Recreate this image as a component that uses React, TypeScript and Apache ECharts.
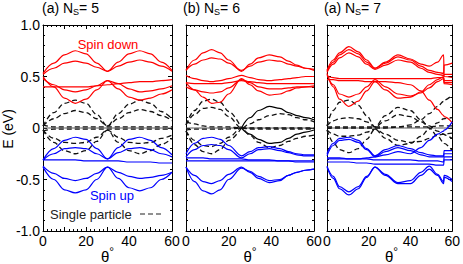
import React, { useEffect, useRef } from "react";
import * as echarts from "echarts";

// x positions (theta, degrees) for each panel
const X1 = [0, 5, 10, 15, 20, 25, 30, 35, 40, 45, 50, 55, 60];
const X2 = [0, 4, 8, 12, 16, 20, 26, 30, 34, 39, 44, 48, 52, 56, 60];
const X3 = [0, 3, 6, 10.5, 15, 19, 23, 28, 34, 40, 45, 49, 53, 55.9, 56.1, 60];

const N = null;

// ---------- Panel (a) N_S = 5 ----------
const P1_RED = [
  [0.53, 0.63, 0.71, 0.75, 0.72, 0.63, 0.55, 0.64, 0.72, 0.75, 0.72, 0.64, 0.56],
  [0.52, 0.58, 0.63, 0.65, 0.63, 0.59, 0.55, 0.60, 0.64, 0.66, 0.64, 0.60, 0.55],
  [0.50, 0.40, 0.29, 0.24, 0.28, 0.37, 0.46, 0.38, 0.30, 0.27, 0.29, 0.33, 0.37],
  [0.48, 0.42, 0.37, 0.35, 0.37, 0.41, 0.46, 0.43, 0.38, 0.35, 0.36, 0.38, 0.41],
  [0.40, 0.40, 0.40, 0.40, 0.40, 0.41, 0.42, 0.43, 0.44, 0.45, 0.45, 0.46, 0.47],
];
const P1_DASH = [
  [0.02, 0.15, 0.24, 0.27, 0.24, 0.13, 0.02, 0.14, 0.23, 0.27, 0.24, 0.16, 0.09],
  [0.02, 0.09, 0.14, 0.17, 0.15, 0.09, 0.02, 0.09, 0.15, 0.18, 0.16, 0.12, 0.07],
  [0.03, 0.01, 0.01, 0.01, 0.01, 0.01, 0.01, 0.01, 0.01, 0.01, 0.01, 0.01, 0.01],
  [-0.03, -0.01, -0.01, -0.01, -0.01, -0.01, -0.01, -0.01, -0.01, -0.01, -0.01, -0.01, -0.01],
  [-0.02, -0.10, -0.14, -0.15, -0.14, -0.09, -0.02, -0.09, -0.14, -0.15, -0.14, -0.10, -0.07],
  [-0.02, -0.14, -0.22, -0.25, -0.22, -0.13, -0.02, -0.14, -0.22, -0.25, -0.22, -0.16, -0.10],
];
const P1_SOLID = [
  [0, 0, 0, 0, 0, 0, 0, 0, 0, 0, 0, 0, 0],
];
const P1_BLUE = [
  [-0.31, -0.20, -0.12, -0.09, -0.11, -0.20, -0.30, -0.19, -0.11, -0.09, -0.12, -0.19, -0.26],
  [-0.31, -0.25, -0.20, -0.19, -0.20, -0.25, -0.30, -0.24, -0.20, -0.19, -0.21, -0.25, -0.28],
  [-0.31, -0.31, -0.31, -0.31, -0.32, -0.32, -0.32, -0.32, -0.33, -0.33, -0.33, -0.34, -0.34],
  [-0.37, -0.44, -0.49, -0.51, -0.49, -0.44, -0.38, -0.43, -0.47, -0.49, -0.48, -0.46, -0.43],
  [-0.38, -0.50, -0.60, -0.63, -0.60, -0.50, -0.38, -0.49, -0.58, -0.61, -0.58, -0.50, -0.43],
];

// ---------- Panel (b) N_S = 6 ----------
const P2_RED = [
  [0.56, 0.66, 0.73, 0.76, 0.73, 0.66, 0.55, 0.62, 0.68, 0.71, 0.69, 0.65, 0.61, 0.58, 0.57],
  [0.56, 0.62, 0.66, 0.68, 0.67, 0.63, 0.56, 0.60, 0.64, 0.66, 0.65, 0.62, 0.60, 0.58, 0.56],
  [0.51, 0.48, 0.46, 0.45, 0.46, 0.48, 0.51, 0.49, 0.47, 0.46, 0.47, 0.48, 0.49, 0.50, 0.50],
  [0.44, 0.43, 0.43, 0.43, 0.43, 0.44, 0.46, 0.45, 0.44, 0.43, 0.43, 0.43, 0.43, 0.43, 0.43],
  [0.44, 0.37, 0.30, 0.24, 0.25, 0.33, 0.48, 0.42, 0.36, 0.32, 0.33, 0.36, 0.39, 0.40, 0.40],
  [0.40, 0.37, 0.35, 0.34, 0.35, 0.39, 0.47, 0.44, 0.40, 0.38, 0.38, 0.39, 0.40, 0.40, 0.41],
];
const P2_DASH = [
  [0.03, 0.17, 0.26, 0.28, 0.25, 0.16, 0.00, N, N, N, N, N, N, N, N],
  [0.03, 0.13, 0.19, 0.20, 0.18, 0.11, 0.00, 0.04, 0.08, 0.12, 0.14, 0.13, 0.10, 0.08, 0.06],
  [0.06, 0.04, 0.02, 0.01, 0.01, 0.01, 0.00, 0.00, 0.00, 0.00, 0.00, 0.00, 0.00, 0.00, 0.00],
  [-0.02, -0.01, -0.01, -0.01, -0.01, -0.01, 0.00, -0.01, -0.01, -0.01, -0.01, -0.01, -0.01, -0.01, -0.01],
  [-0.03, -0.12, -0.17, -0.18, -0.15, -0.09, 0.00, -0.07, -0.14, -0.19, -0.17, -0.13, -0.10, -0.08, -0.07],
  [-0.03, -0.16, -0.23, -0.25, -0.21, -0.12, 0.00, N, N, N, N, N, N, N, N],
];
const P2_SOLID = [
  [0, 0, 0, 0, 0, 0, 0, 0, 0, 0, 0, 0, 0, 0, 0],
  [N, N, N, N, N, N, 0.00, 0.10, 0.17, 0.21, 0.19, 0.15, 0.12, 0.10, 0.08],
  [N, N, N, N, N, N, 0.00, -0.06, -0.11, -0.15, -0.14, -0.10, -0.06, -0.04, -0.02],
];
const P2_BLUE = [
  [-0.25, -0.15, -0.10, -0.09, -0.11, -0.17, -0.27, -0.23, -0.19, -0.18, -0.20, -0.23, -0.25, -0.26, -0.26],
  [-0.28, -0.21, -0.17, -0.16, -0.17, -0.21, -0.29, -0.25, -0.21, -0.20, -0.22, -0.24, -0.26, -0.27, -0.27],
  [-0.32, -0.32, -0.32, -0.32, -0.32, -0.32, -0.32, -0.32, -0.32, -0.32, -0.32, -0.32, -0.32, -0.32, -0.32],
  [-0.29, -0.29, -0.29, -0.30, -0.30, -0.30, -0.30, -0.31, -0.31, -0.31, -0.32, -0.32, -0.33, -0.33, -0.33],
  [-0.38, -0.46, -0.52, -0.54, -0.51, -0.45, -0.38, -0.43, -0.49, -0.53, -0.51, -0.46, -0.43, -0.41, -0.40],
  [-0.38, -0.52, -0.61, -0.64, -0.60, -0.50, -0.39, -0.42, -0.47, -0.51, -0.50, -0.46, -0.43, -0.41, -0.40],
];

// ---------- Panel (a) N_S = 7 ----------
const P3_RED = [
  [0.56, 0.66, 0.73, 0.79, 0.74, 0.66, 0.58, 0.64, 0.71, 0.67, 0.62, 0.60, 0.64, 0.71, 0.50, 0.49],
  [0.55, 0.64, 0.71, 0.76, 0.72, 0.64, 0.58, 0.63, 0.69, 0.66, 0.60, 0.56, 0.54, 0.53, 0.61, 0.63],
  [0.54, 0.62, 0.68, 0.73, 0.69, 0.62, 0.57, 0.61, 0.66, 0.64, 0.58, 0.54, 0.52, 0.51, 0.52, 0.52],
  [0.50, 0.49, 0.48, 0.48, 0.48, 0.48, 0.48, 0.48, 0.48, 0.48, 0.48, 0.48, 0.49, 0.49, 0.46, 0.46],
  [0.52, 0.42, 0.33, 0.30, 0.33, 0.40, 0.47, 0.40, 0.33, 0.31, 0.34, 0.39, 0.45, 0.48, 0.44, 0.44],
  [0.53, 0.40, 0.28, 0.21, 0.26, 0.36, 0.45, 0.37, 0.29, 0.30, 0.35, 0.42, 0.47, 0.50, 0.43, 0.42],
  [0.47, 0.47, 0.46, 0.46, 0.46, 0.45, 0.45, 0.45, 0.44, 0.42, 0.36, 0.27, 0.18, 0.12, 0.11, 0.05],
];
const P3_DASH = [
  [0.02, 0.17, 0.25, 0.27, 0.22, 0.12, 0.01, 0.12, 0.20, 0.17, 0.08, 0.00, -0.08, -0.14, -0.15, -0.22],
  [0.02, 0.07, 0.09, 0.10, 0.09, 0.06, 0.01, 0.07, 0.13, 0.11, 0.06, 0.02, -0.03, -0.06, -0.06, -0.10],
  [0.00, 0.00, 0.00, 0.00, 0.00, 0.00, 0.00, 0.00, 0.01, 0.03, 0.08, 0.14, 0.21, 0.26, 0.27, 0.32],
  [0.01, 0.01, 0.01, 0.01, 0.01, 0.01, 0.01, 0.01, 0.01, 0.01, 0.01, 0.01, 0.02, 0.02, 0.02, 0.02],
  [-0.02, -0.14, -0.21, -0.24, -0.20, -0.11, -0.01, -0.10, -0.17, -0.15, -0.08, -0.01, 0.05, 0.09, 0.09, 0.10],
  [-0.02, -0.06, -0.08, -0.08, -0.07, -0.04, -0.01, -0.06, -0.12, -0.14, -0.13, -0.10, -0.07, -0.06, -0.06, -0.05],
];
const P3_SOLID = [
  [0, 0, 0, 0, 0, 0, 0, 0, 0, 0, 0, 0, 0, 0, 0, 0],
];
const P3_BLUE = [
  [-0.25, -0.15, -0.10, -0.09, -0.12, -0.20, -0.27, -0.21, -0.17, -0.20, -0.24, -0.26, -0.27, -0.27, -0.22, -0.22],
  [-0.27, -0.17, -0.12, -0.11, -0.14, -0.21, -0.28, -0.23, -0.19, -0.22, -0.26, -0.28, -0.28, -0.28, -0.25, -0.25],
  [-0.29, -0.29, -0.29, -0.30, -0.30, -0.30, -0.31, -0.31, -0.31, -0.31, -0.32, -0.32, -0.32, -0.33, -0.28, -0.28],
  [-0.33, -0.33, -0.33, -0.33, -0.34, -0.34, -0.35, -0.35, -0.35, -0.35, -0.35, -0.35, -0.36, -0.36, -0.31, -0.31],
  [-0.37, -0.47, -0.57, -0.62, -0.57, -0.47, -0.38, -0.45, -0.53, -0.51, -0.43, -0.37, -0.45, -0.52, -0.46, -0.50],
  [-0.38, -0.49, -0.59, -0.65, -0.59, -0.48, -0.38, -0.46, -0.54, -0.54, -0.46, -0.40, -0.46, -0.54, -0.48, -0.52],
  [-0.30, -0.30, -0.30, -0.30, -0.30, -0.29, -0.28, -0.26, -0.23, -0.25, -0.19, -0.12, -0.06, -0.03, -0.02, 0.06],
];

const PANELS = [
  { x: X1, red: P1_RED, dash: P1_DASH, solid: P1_SOLID, blue: P1_BLUE },
  { x: X2, red: P2_RED, dash: P2_DASH, solid: P2_SOLID, blue: P2_BLUE },
  { x: X3, red: P3_RED, dash: P3_DASH, solid: P3_SOLID, blue: P3_BLUE },
];

const TITLES = [
  ["(a) N", "S", "= 5"],
  ["(b) N", "S", "= 6"],
  ["(a) N", "S", "= 7"],
];
const Y_TICK_LABELS: Record<string, string> = { "1": "1.0", "0.5": "0.5", "0": "0", "-0.5": "-0.5", "-1": "-1.0" };
const Y_NAME = "E (eV)";
const X_NAME = "θ";
const LEGEND_DOWN = "Spin down";
const LEGEND_UP = "Spin up";
const LEGEND_SP = "Single particle";

const FONT = "'Liberation Sans', Arial, Helvetica, sans-serif";
const GRIDS = [
  { left: 43, width: 129 },
  { left: 186, width: 128 },
  { left: 327, width: 129 },
];
const TOP = 25;
const HEIGHT = 206;

export default function App() {
  const ref = useRef<HTMLDivElement>(null);
  useEffect(() => {
    if (!ref.current) return;
    const chart = echarts.init(ref.current, undefined, { renderer: "svg" });

    const grid = GRIDS.map((g) => ({ left: g.left, width: g.width, top: TOP, height: HEIGHT, containLabel: false }));

    const tickCommon = {
      axisLine: { show: true, onZero: false, lineStyle: { color: "#000", width: 1 } },
      axisTick: { show: true, inside: true, length: 4, lineStyle: { color: "#000", width: 1 } },
      minorTick: { show: true, splitNumber: 5, length: 2, lineStyle: { color: "#000", width: 1 } },
      splitLine: { show: false },
      minorSplitLine: { show: false },
    };

    const xAxis: any[] = [];
    const yAxis: any[] = [];
    ["bottom", "top"].forEach((pos) => {
      GRIDS.forEach((_, gi) => {
        xAxis.push({
          type: "value",
          gridIndex: gi,
          position: pos,
          min: 0,
          max: 60,
          interval: 10,
          ...tickCommon,
          axisLabel:
            pos === "bottom"
              ? {
                  show: true,
                  margin: 3,
                  fontSize: 14,
                  color: "#000",
                  fontFamily: FONT,
                  formatter: (v: number) => (v % 20 === 0 ? String(v) : ""),
                }
              : { show: false },
        });
      });
    });
    ["left", "right"].forEach((pos) => {
      GRIDS.forEach((_, gi) => {
        yAxis.push({
          type: "value",
          gridIndex: gi,
          position: pos,
          min: -1,
          max: 1,
          interval: 0.5,
          ...tickCommon,
          axisLabel:
            pos === "left" && gi === 0
              ? {
                  show: true,
                  margin: 3,
                  fontSize: 14,
                  color: "#000",
                  fontFamily: FONT,
                  formatter: (v: number) => Y_TICK_LABELS[String(v)] ?? "",
                }
              : { show: false },
        });
      });
    });

    const series: any[] = [];
    const mk = (xs: number[], ys: (number | null)[]) =>
      xs.map((x, i) => [x, ys[i]]).filter((p) => p[1] !== null);
    PANELS.forEach((p, gi) => {
      const base = { type: "line", xAxisIndex: gi, yAxisIndex: gi, symbol: "none", smooth: 0.35, smoothMonotone: "x", silent: true };
      p.solid.forEach((ys, si) =>
        series.push({ ...base, data: mk(p.x, ys), lineStyle: { color: si === 0 ? "#555" : "#000", width: si === 0 ? 1 : 1.2 } })
      );
      p.dash.forEach((ys) =>
        series.push({ ...base, data: mk(p.x, ys), lineStyle: { color: "#111", width: 1.3, type: [5, 3] } })
      );
      p.red.forEach((ys) => series.push({ ...base, data: mk(p.x, ys), lineStyle: { color: "#ff0000", width: 1.2 } }));
      p.blue.forEach((ys) => series.push({ ...base, data: mk(p.x, ys), lineStyle: { color: "#0000ff", width: 1.2 } }));
    });

    const titleStarts = [42, 183, 324];
    const graphic: any[] = [];
    TITLES.forEach((t, i) => {
      graphic.push({
        type: "text",
        x: titleStarts[i],
        y: 8,
        style: {
          text: `{a|${t[0]}}{s|${t[1]}}{a|${t[2]}}`,
          verticalAlign: "middle",
          align: "left",
          rich: {
            a: { fontSize: 14, fontFamily: FONT, fill: "#000" },
            s: { fontSize: 9, fontFamily: FONT, fill: "#000", padding: [7, 0, 0, 0] },
          },
        },
      });
    });
    GRIDS.forEach((g) => {
      graphic.push({
        type: "text",
        x: g.left + g.width / 2,
        y: 256,
        style: {
          text: `{t|${X_NAME}}{d|°}`,
          align: "center",
          verticalAlign: "middle",
          rich: {
            t: { fontSize: 15, fontFamily: FONT, fill: "#000" },
            d: { fontSize: 12, fontFamily: FONT, fill: "#000", padding: [0, 0, 8, 0] },
          },
        },
      });
    });
    graphic.push({
      type: "text",
      x: 8,
      y: 129,
      rotation: Math.PI / 2,
      style: { text: Y_NAME, fontSize: 14, fontFamily: FONT, fill: "#000", align: "center", verticalAlign: "middle" },
    });
    graphic.push({
      type: "text",
      x: 108,
      y: 44,
      style: { text: LEGEND_DOWN, fontSize: 13, fontFamily: FONT, fill: "#ff0000", align: "center", verticalAlign: "middle" },
    });
    graphic.push({
      type: "text",
      x: 112,
      y: 195,
      style: { text: LEGEND_UP, fontSize: 13, fontFamily: FONT, fill: "#0000ff", align: "center", verticalAlign: "middle" },
    });
    graphic.push({
      type: "text",
      x: 50,
      y: 214,
      style: { text: LEGEND_SP, fontSize: 13, fontFamily: FONT, fill: "#222", align: "left", verticalAlign: "middle" },
    });
    graphic.push({
      type: "line",
      shape: { x1: 140, y1: 214, x2: 164, y2: 214 },
      style: { stroke: "#222", lineWidth: 1.2, lineDash: [5, 3] },
    });

    chart.setOption({
      animation: false,
      backgroundColor: "#fff",
      grid,
      xAxis,
      yAxis,
      series,
      graphic,
    });
    return () => chart.dispose();
  }, []);

  return <div ref={ref} style={{ position: "fixed", left: 0, top: 0, width: 463, height: 264 }} />;
}
